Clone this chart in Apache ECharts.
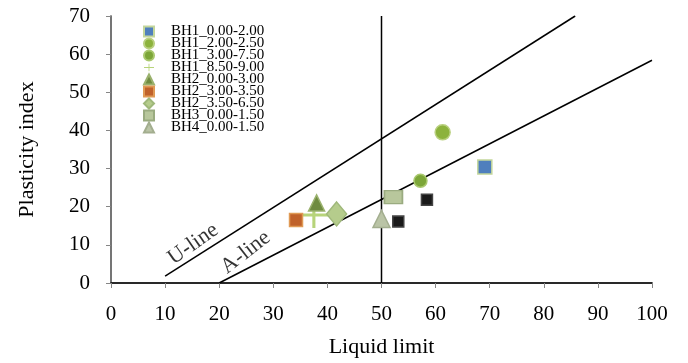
<!DOCTYPE html>
<html>
<head>
<meta charset="utf-8">
<script src="https://cdn.jsdelivr.net/npm/echarts@6/dist/echarts.min.js"></script>
<style>
  html, body { margin: 0; padding: 0; background: #fff; }
  #chart { width: 688px; height: 363px; }
</style>
</head>
<body>
<div id="chart"></div>
<script>
// sample points [liquid limit, plasticity index]
var bh1_000_200 = [[69.1, 30.4]];
var bh1_200_250 = [[61.3, 39.5]];
var bh1_300_750 = [[57.2, 26.8]];
var bh1_850_900 = [[37.5, 17.8]];
var bh2_000_300 = [[38.0, 21.0]];
var bh2_300_350 = [[34.2, 16.5]];
var bh2_350_650 = [[41.7, 18.1]];
var bh3_000_150 = [[52.2, 22.5]];
var bh4_000_150 = [[50.0, 16.8]];
var unlisted = [[53.1, 16.1], [58.4, 21.8]];

// reference lines
var uLine = [[10, 1.8], [85.8, 70]];
var aLine = [[20, 0], [100, 58.4]];
var llFifty = [[50, 0], [50, 70]];
var lineLabels = [{name: 'U-line', value: [15.2, 10.2], angle: 35}, {name: 'A-line', value: [24.9, 8.0], angle: 38}];

var xTicks = [0, 100, 10];
var yTicks = [0, 70, 10];

var legendNames = ['BH1_0.00-2.00', 'BH1_2.00-2.50', 'BH1_3.00-7.50', 'BH1_8.50-9.00',
  'BH2_0.00-3.00', 'BH2_3.00-3.50', 'BH2_3.50-6.50', 'BH3_0.00-1.50', 'BH4_0.00-1.50'];

var serif = 'Liberation Serif';
var plusPath = 'path://M-1.5,-13 h3 v11.5 h16 v3 h-16 v11.5 h-3 v-11.5 h-16 v-3 h16 z';

function pts(name, data, symbol, size, color, border) {
  return {
    name: name, type: 'scatter', data: data, symbol: symbol, symbolSize: size, z: 5,
    itemStyle: {color: color, borderColor: border || color, borderWidth: border ? 1.5 : 0, opacity: 1}
  };
}

function refLine(data) {
  return {
    type: 'line', data: data, symbol: 'none', silent: true, z: 3,
    lineStyle: {color: '#000', width: 1.5}
  };
}

var option = {
  animation: false,
  backgroundColor: '#fff',
  grid: {left: 111, right: 36, top: 16, bottom: 80},
  legend: {
    data: legendNames,
    orient: 'vertical',
    left: 138, top: 19,
    itemWidth: 10, itemHeight: 10, itemGap: -3,
    textStyle: {fontFamily: serif, fontSize: 15, color: '#000', padding: [0, 0, 0, 12]}
  },
  xAxis: [{
    type: 'value', min: xTicks[0], max: xTicks[1], interval: xTicks[2],
    name: 'Liquid limit', nameLocation: 'middle', nameGap: 53,
    nameTextStyle: {fontFamily: serif, fontSize: 22, color: '#000'},
    axisLine: {lineStyle: {color: '#868686', width: 1.5}},
    axisTick: {show: true, length: 5, lineStyle: {color: '#868686'}},
    axisLabel: {fontFamily: serif, fontSize: 21, color: '#000', margin: 21},
    splitLine: {show: false}
  }, {
    type: 'value', position: 'top', min: xTicks[0], max: xTicks[1],
    axisLine: {show: true, lineStyle: {color: '#000', width: 1.5}},
    axisTick: {show: false}, axisLabel: {show: false}, splitLine: {show: false}
  }],
  yAxis: [{
    type: 'value', min: yTicks[0], max: yTicks[1], interval: yTicks[2],
    name: 'Plasticity index', nameLocation: 'middle', nameGap: 73,
    nameTextStyle: {fontFamily: serif, fontSize: 22, color: '#000'},
    axisLine: {lineStyle: {color: '#868686', width: 1.5}},
    axisTick: {show: true, length: 5, lineStyle: {color: '#868686'}},
    axisLabel: {fontFamily: serif, fontSize: 21, color: '#000', margin: 21},
    splitLine: {show: false}
  }, {
    type: 'value', position: 'right', min: yTicks[0], max: yTicks[1],
    axisLine: {show: true, lineStyle: {color: '#666', width: 1.5}},
    axisTick: {show: false}, axisLabel: {show: false}, splitLine: {show: false}
  }],
  series: [
    refLine(uLine), refLine(aLine), refLine(llFifty),
    {
      type: 'scatter', symbolSize: 0, silent: true, z: 4,
      data: lineLabels.map(function (d) {
        return {name: d.name, value: d.value, label: {rotate: d.angle}};
      }),
      label: {
        show: true, position: 'inside', formatter: '{b}',
        fontFamily: serif, fontSize: 22, color: '#000'
      }
    },
    pts(legendNames[0], bh1_000_200, 'rect', 14, '#4f7fbd', '#c3d69b'),
    pts(legendNames[1], bh1_200_250, 'circle', 15, '#8cb23c', '#b9d07f'),
    pts(legendNames[2], bh1_300_750, 'circle', 13, '#7ca638', '#a9c86e'),
    pts(legendNames[3], bh1_850_900, plusPath, [36, 26], '#b7d47a'),
    pts(legendNames[4], bh2_000_300, 'triangle', 16, '#6f8b40', '#9bb26e'),
    pts(legendNames[5], bh2_300_350, 'rect', 13, '#c0622b', '#e09a55'),
    pts(legendNames[6], bh2_350_650, 'diamond', [20, 24], '#b5cc8c', '#9fb87a'),
    pts(legendNames[7], bh3_000_150, 'rect', [18, 13], '#b8c79c', '#9aab80'),
    pts(legendNames[8], bh4_000_150, 'triangle', 17, '#bac4a6', '#a3ae8f'),
    pts('unlisted', unlisted, 'rect', 11, '#1a1a1a', '#444')
  ]
};

var chart = echarts.init(document.getElementById('chart'), null, {renderer: 'canvas'});
chart.setOption(option);
</script>
</body>
</html>
